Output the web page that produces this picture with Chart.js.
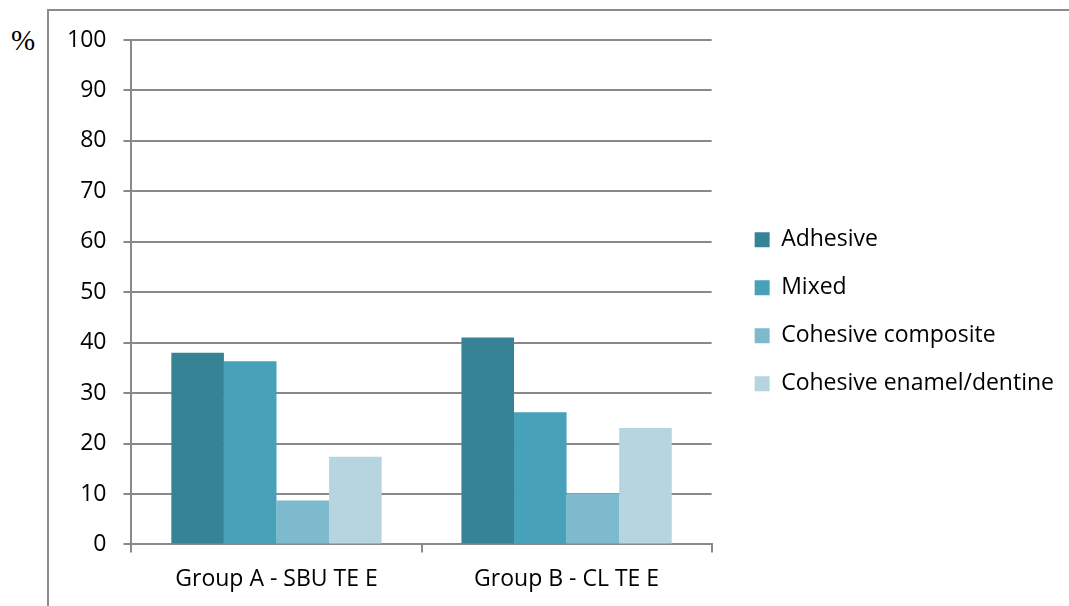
<!DOCTYPE html>
<html>
<head>
<meta charset="utf-8">
<script src="https://cdn.jsdelivr.net/npm/chart.js@4.4.1/dist/chart.umd.min.js"></script>
<style>
    html, body { margin: 0; padding: 0; background: #fff; }
    #wrap { position: relative; width: 1069px; height: 606px; overflow: hidden; }
    #frame {
        position: absolute; left: 47px; top: 9px; width: 1100px; height: 700px;
        border-left: 2px solid #8c8c8c; border-top: 2px solid #8c8c8c;
    }
    #unit {
        position: absolute; left: 11px; top: 24px;
        font-family: "Liberation Serif", "DejaVu Serif", serif; font-size: 29px; color: #000;
    }
    #chart { position: absolute; left: 0; top: 0; }
</style>
</head>
<body>
<div id="wrap">
    <div id="frame"></div>
    <div id="unit">%</div>
    <canvas id="chart" width="1069" height="606"></canvas>
</div>
<script>
// Failure mode percentages per group
const groups = ['Group A - SBU TE E', 'Group B - CL TE E'];
const adhesive = [38.0, 41.0];
const mixed = [36.3, 26.2];
const cohesiveComposite = [8.7, 10.1];
const cohesiveEnamel = [17.4, 23.1];
const yTicks = [0, 10, 20, 30, 40, 50, 60, 70, 80, 90, 100];

const gridGrey = '#898989';
const fontFamily = '"Open Sans", Lato, sans-serif';
const LEGEND_GAP = 18;

// Push the legend a bit further away from the plot area
const legendGap = {
    id: 'legendGap',
    beforeLayout(chart) {
        const legend = chart.legend;
        if (!legend || legend._gapPatched) return;
        const fit = legend.fit;
        legend.fit = function () {
            fit.call(this);
            this.width += LEGEND_GAP;
        };
        legend._gapPatched = true;
    },
    afterLayout(chart) {
        if (chart.legend) chart.legend.left += LEGEND_GAP;
    }
};

const ctx = document.getElementById('chart');

new Chart(ctx, {
    type: 'bar',
    data: {
        labels: groups,
        datasets: [
            { label: 'Adhesive', data: adhesive, backgroundColor: '#378396' },
            { label: 'Mixed', data: mixed, backgroundColor: '#47a1b9' },
            { label: 'Cohesive composite', data: cohesiveComposite, backgroundColor: '#7ebace' },
            { label: 'Cohesive enamel/dentine', data: cohesiveEnamel, backgroundColor: '#b7d5e0' }
        ]
    },
    options: {
        responsive: false,
        animation: false,
        datasets: {
            bar: { categoryPercentage: 0.725, barPercentage: 1.0, borderWidth: 0 }
        },
        layout: { padding: { left: 50, top: 40, right: 5, bottom: 0 } },
        plugins: {
            legend: {
                position: 'right',
                align: 'center',
                fullSize: false,
                maxWidth: 420,
                title: {
                    // empty spacer that nudges the items down
                    display: true,
                    text: ' ',
                    padding: 0,
                    font: { size: 39, lineHeight: 1 }
                },
                labels: {
                    color: '#000',
                    boxWidth: 15,
                    boxHeight: 15,
                    padding: 25,
                    font: { family: fontFamily, size: 23 }
                }
            },
            tooltip: { enabled: false }
        },
        scales: {
            x: {
                grid: {
                    display: true,
                    offset: true,
                    drawOnChartArea: false,
                    drawTicks: true,
                    tickLength: 8,
                    color: gridGrey,
                    lineWidth: 2
                },
                border: { color: gridGrey, width: 2 },
                ticks: {
                    color: '#000',
                    padding: 13,
                    font: { family: fontFamily, size: 23 }
                }
            },
            y: {
                min: 0,
                max: 100,
                afterBuildTicks: axis => {
                    axis.ticks = yTicks.map(v => ({ value: v }));
                },
                grid: {
                    color: gridGrey,
                    lineWidth: 2,
                    tickLength: 8
                },
                border: { color: gridGrey, width: 2 },
                ticks: {
                    color: '#000',
                    padding: 17,
                    font: { family: fontFamily, size: 23 }
                }
            }
        }
    },
    plugins: [legendGap]
});
</script>
</body>
</html>
